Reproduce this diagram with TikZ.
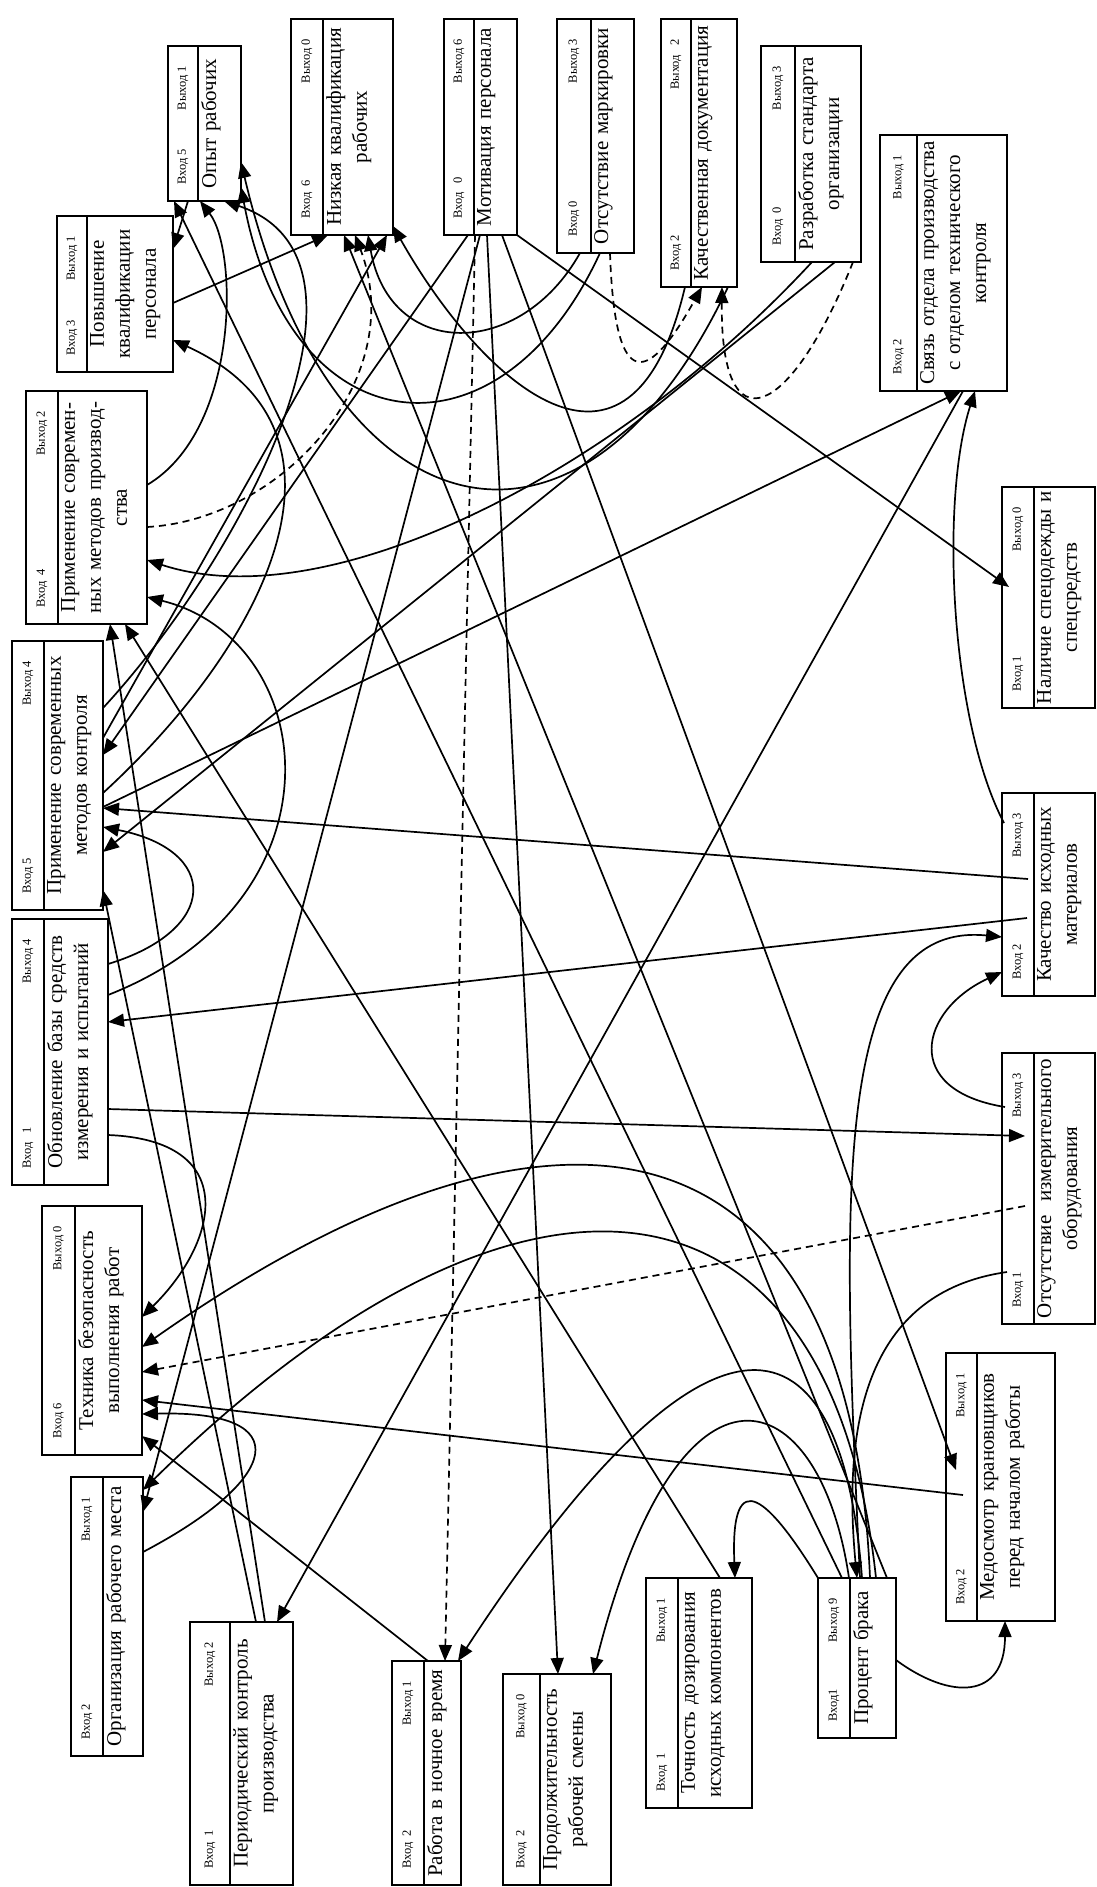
\documentclass[tikz,border=0pt]{standalone}
\usepackage{fontspec}
\setmainfont{Liberation Serif}
\usetikzlibrary{arrows.meta,calc}

\tikzset{
  boxnode/.style={draw, line width=1.3pt, inner sep=0pt, outer sep=0pt},
  divline/.style={line width=1.3pt},
  lbl/.style={rotate=90, inner sep=0pt, font=\fontsize{12.5}{12.5}\selectfont},
  ttl/.style={rotate=90, align=center, inner sep=1pt, font=\fontsize{21}{26}\selectfont},
  link/.style={line width=1.7pt, -{Triangle[length=16pt,width=13pt]}},
  dlink/.style={link, dash pattern=on 7pt off 5pt},
}

% box: name, x0, divider x, x1, y0, y1, title, inputs, outputs
\newcommand{\causebox}[9]{%
  \pgfmathsetmacro{\cbW}{#4-#2}%
  \pgfmathsetmacro{\cbH}{#6-#5}%
  \pgfmathsetmacro{\cbT}{#6-#5-2}%
  \pgfmathsetmacro{\cbX}{(#2+#3)/2}%
  \pgfmathsetmacro{\cbY}{(#5+#6)/2}%
  \node[boxnode, minimum width=\cbW pt, minimum height=\cbH pt, anchor=north west] (#1) at (#2,#5) {};
  \draw[divline] (#3,#5) -- (#3,#6);
  \node[lbl, anchor=west] (#1-in) at (\cbX,#6-16) {#8};
  \node[lbl, anchor=east] (#1-out) at (\cbX,#5+20) {#9};
  \node[ttl, text width=\cbT pt, anchor=north] (#1-t) at (#3+2,\cbY) {#7};
}

\begin{document}
\begin{tikzpicture}[x=1pt, y=-1pt]
\useasboundingbox (0,0) rectangle (1097,1887);

% boxes
\causebox{opyt}{168}{198}{241}{46}{201}{Опыт рабочих}{Вход 5}{Выход 1}
\causebox{nizk}{291}{323}{393}{19}{235}{Низкая квалификация\\рабочих}{Вход\ \ 6}{Выход 0}
\causebox{motiv}{444}{474}{517}{19}{235}{Мотивация персонала}{Вход\ \ \ 0}{Выход 6}
\causebox{mark}{557}{591}{634}{19}{253}{Отсутствие маркировки}{Вход 0}{Выход 3}
\causebox{kdoc}{661}{691}{737}{19}{287}{Качественная документация}{Вход 2}{Выход\ \ \ 2}
\causebox{stand}{761}{795}{861}{46}{262}{Разработка стандарта\\организации}{Вход\ \ 0}{Выход 3}
\causebox{svyaz}{880}{917}{1007}{135}{391}{Связь отдела производства\\с отделом технического\\контроля}{Вход 2}{Выход 1}
\causebox{nalich}{1002}{1034}{1095}{487}{708}{Наличие спецодежды и\\спецсредств}{Вход 1}{Выход 0}
\causebox{kachm}{1002}{1034}{1095}{793}{996}{Качество исходных\\материалов}{Вход 2}{Выход 3}
\causebox{otsizm}{1002}{1034}{1095}{1053}{1324}{Отсутствие\ \ измерительного\\оборудования}{Вход 1}{Выход 3}
\causebox{medos}{946}{977}{1055}{1353}{1621}{Медосмотр крановщиков\\перед началом работы}{Вход 2}{Выход 1}
\causebox{brak}{818}{850}{896}{1578}{1738}{Процент брака}{Вход1}{Выход 9}
\causebox{tochn}{646}{678}{752}{1578}{1808}{Точность дозирования\\исходных компонентов}{Вход\ \ 1}{Выход 1}
\causebox{prodol}{503}{540}{611}{1674}{1885}{Продолжительность\\рабочей смены}{Вход\ \ 2}{Выход 0}
\causebox{noch}{392}{424}{461}{1661}{1885}{Работа в ночное время}{Вход\ \ 2}{Выход 1}
\causebox{period}{190}{230}{293}{1622}{1885}{Периодический контроль\\производства}{Вход\ \ 1}{Выход 2}
\causebox{orgm}{71}{103}{143}{1477}{1756}{Организация рабочего места}{Вход 2}{Выход 1}
\causebox{tehb}{42}{75}{142}{1206}{1455}{Техника безопасность\\выполнения работ}{Вход 6}{Выход 0}
\causebox{obnov}{12}{44}{108}{919}{1185}{Обновление базы средств\\измерения и испытаний}{Вход\ \ \ 1}{Выход 4}
\causebox{mkontr}{12}{44}{103}{641}{910}{Применение современных\\методов контроля}{Вход 5}{Выход 4}
\causebox{mproizv}{26}{58}{147}{391}{624}{Применение современ-\\ных методов производ-\\ства}{Вход\ \ 4}{Выход 2}
\causebox{povysh}{57}{87}{173}{216}{372}{Повышение\\квалификации\\персонала}{Вход 3}{Выход 1}

% links
\draw[link] ($(povysh.north west)+(116,87)$) -- ($(nizk.north west)+(37,216)$);
\draw[link] ($(opyt.north west)+(20,155)$) -- ($(povysh.north west)+(116,33)$);
\draw[link] ($(brak.north west)+(24,0)$) -- ($(opyt.north west)+(6,155)$);
\draw[link] ($(mproizv.north west)+(121,94)$) .. controls (240,430) and (238,250) .. ($(opyt.north west)+(32,155)$);
\draw[link] ($(mkontr.north west)+(91,67)$) .. controls (240,560) and (400,260) .. ($(opyt.north west)+(56,155)$);
\draw[link] ($(mkontr.north west)+(91,152)$) .. controls (270,640) and (370,430) .. ($(povysh.north west)+(116,124)$);
\draw[link] ($(mkontr.north west)+(91,97)$) -- ($(nizk.north west)+(96,216)$);
\draw[link] ($(kdoc.north west)+(24,268)$) .. controls (630,520) and (480,380) .. ($(nizk.north west)+(102,207)$);
\draw[link] ($(mark.north west)+(23,234)$) .. controls (520,360) and (390,360) .. ($(nizk.north west)+(77,216)$);
\draw[link] ($(mark.north west)+(43,234)$) .. controls (500,470) and (290,450) .. ($(opyt.north west)+(73,141)$);
\draw[link] ($(kdoc.north west)+(67,268)$) .. controls (580,600) and (330,540) .. ($(opyt.north west)+(73,116)$);
\draw[link] ($(brak.north west)+(69,0)$) -- ($(nizk.north west)+(53,216)$);
\draw[dlink] ($(mproizv.north west)+(121,136)$) .. controls (280,520) and (410,380) .. ($(nizk.north west)+(64,216)$);
\draw[dlink] ($(motiv.north west)+(31,216)$) -- ($(noch.north west)+(53,0)$);
\draw[link] ($(motiv.north west)+(43,216)$) -- ($(prodol.north west)+(55,0)$);
\draw[link] ($(motiv.north west)+(58,216)$) -- ($(medos.north west)+(10,117)$);
\draw[link] ($(motiv.north west)+(73,216)$) -- ($(nalich.north west)+(7,100)$);
\draw[link] ($(motiv.north west)+(24,216)$) -- ($(mkontr.north west)+(91,114)$);
\draw[link] ($(motiv.north west)+(36,216)$) -- ($(orgm.north west)+(72,35)$);
\draw[dlink] ($(mark.north west)+(53,234)$) .. controls (615,400) and (650,380) .. ($(kdoc.north west)+(41,268)$);
\draw[dlink] ($(stand.north west)+(92,216)$) .. controls (790,420) and (720,450) .. ($(kdoc.north west)+(61,268)$);
\draw[link] ($(stand.north west)+(51,216)$) .. controls (620,470) and (330,620) .. ($(mproizv.north west)+(121,169)$);
\draw[link] ($(stand.north west)+(74,216)$) -- ($(mkontr.north west)+(91,211)$);
\draw[link] ($(kachm.north west)+(26,86)$) -- ($(mkontr.north west)+(91,167)$);
\draw[link] ($(mkontr.north west)+(91,166)$) -- ($(svyaz.north west)+(81,256)$);
\draw[link] ($(svyaz.north west)+(83,256)$) -- ($(period.north west)+(87,0)$);
\draw[link] ($(kachm.north west)+(2,30)$) .. controls (950,720) and (940,500) .. ($(svyaz.north west)+(95,256)$);
\draw[link] ($(kachm.north west)+(25,125)$) -- ($(obnov.north west)+(96,103)$);
\draw[link] ($(brak.north west)+(42,0)$) .. controls (842,1200) and (830,920) .. ($(kachm.north west)+(0,144)$);
\draw[link] ($(otsizm.north west)+(3,54)$) .. controls (900,1090) and (920,1010) .. ($(kachm.north west)+(0,179)$);
\draw[link] ($(obnov.north west)+(96,190)$) -- ($(otsizm.north west)+(23,83)$);
\draw[link] ($(obnov.north west)+(96,216)$) .. controls (240,1140) and (220,1240) .. ($(tehb.north west)+(100,111)$);
\draw[dlink] ($(otsizm.north west)+(23,153)$) -- ($(tehb.north west)+(100,166)$);
\draw[link] ($(brak.north west)+(52,0)$) .. controls (850,1100) and (550,1060) .. ($(tehb.north west)+(100,141)$);
\draw[link] ($(brak.north west)+(58,0)$) .. controls (830,1150) and (520,1120) .. ($(orgm.north west)+(72,13)$);
\draw[link] ($(brak.north west)+(44,0)$) .. controls (840,1290) and (700,1290) .. ($(noch.north west)+(66,0)$);
\draw[link] ($(brak.north west)+(31,0)$) .. controls (820,1380) and (680,1330) .. ($(prodol.north west)+(90,0)$);
\draw[link] ($(brak.north west)+(0,0)$) .. controls (770,1500) and (730,1460) .. ($(tochn.north west)+(89,0)$);
\draw[link] ($(brak.north west)+(78,82)$) .. controls (950,1700) and (1005,1700) .. ($(medos.north west)+(59,268)$);
\draw[link] ($(otsizm.north west)+(5,219)$) .. controls (880,1290) and (840,1400) .. ($(brak.north west)+(39,0)$);
\draw[link] ($(medos.north west)+(17,142)$) -- ($(tehb.north west)+(100,194)$);
\draw[link] ($(orgm.north west)+(72,75)$) .. controls (280,1480) and (300,1410) .. ($(tehb.north west)+(100,208)$);
\draw[link] ($(noch.north west)+(36,0)$) -- ($(tehb.north west)+(100,230)$);
\draw[link] ($(period.north west)+(66,0)$) -- ($(mkontr.north west)+(91,249)$);
\draw[link] ($(period.north west)+(75,0)$) -- ($(mproizv.north west)+(84,233)$);
\draw[link] ($(tochn.north west)+(74,0)$) -- ($(mproizv.north west)+(99,233)$);
\draw[link] ($(obnov.north west)+(96,45)$) .. controls (220,930) and (220,850) .. ($(mkontr.north west)+(91,186)$);
\draw[link] ($(obnov.north west)+(96,76)$) .. controls (350,900) and (320,640) .. ($(mproizv.north west)+(121,206)$);
\end{tikzpicture}
\end{document}
